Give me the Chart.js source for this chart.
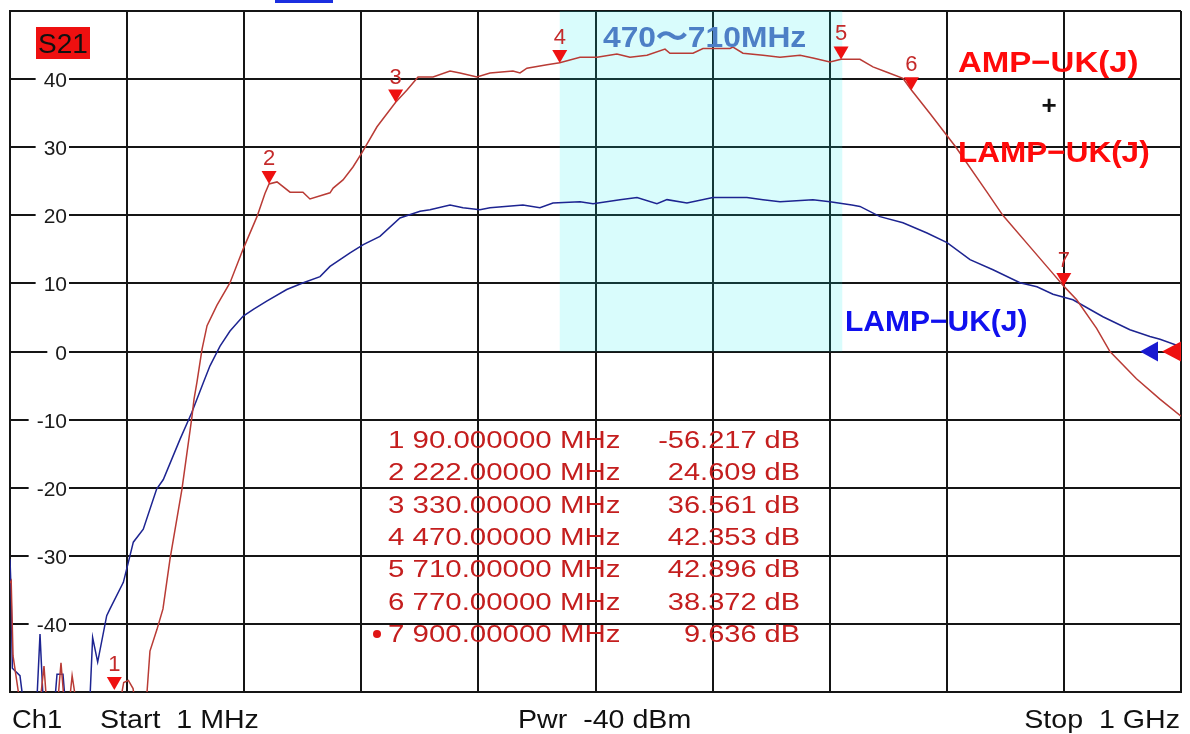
<!DOCTYPE html>
<html>
<head>
<meta charset="utf-8">
<script src="https://cdn.jsdelivr.net/npm/chart.js@4.4.1/dist/chart.umd.min.js"></script>
<style>
html, body { margin: 0; padding: 0; background: #fff; }
#wrap { width: 1190px; height: 734px; position: relative; }
</style>
</head>
<body>
<div id="wrap"><canvas id="chart" width="1190" height="734"></canvas></div>
<script>
// sweep 1 MHz .. 1 GHz, 10 dB/div
const startMHz = 1;
const stopMHz = 1000;
const yLabels = [40, 30, 20, 10, 0, -10, -20, -30, -40];

// AMP-UK(J) + LAMP-UK(J) trace (red)
const redFreq = [1, 2, 3.6, 9, 27, 30, 32, 42, 44.5, 47, 52, 54, 57,
	90, 95, 98, 102, 106, 108, 114, 117.9, 120.4, 126.4, 131.5, 137.5, 147.7, 156.3, 158, 160.5, 164.8,
	169.1, 177.6, 188.7, 199.8, 211.7, 218.5, 222, 228.8, 239.9, 250.9, 256.9, 274, 276.7, 285.1, 293.6,
	301.3, 314.1, 330, 339.7, 349.1, 361.9, 376.4, 384.9, 399.4, 410.5, 430.1, 436.1, 442, 459.1, 470,
	487.3, 501.8, 518.8, 529.9, 544.4, 559.8, 564, 583.7, 592.2, 615.2, 617.8, 626.3, 643.4, 657.9, 675,
	686, 700.5, 710, 726.1, 737.2, 749.2, 762.8, 770, 786, 808, 834.5, 848, 871, 891, 900, 911, 928,
	939.4, 962, 982, 1000];
const redDb = [-34, -33.7, -44.7, -51, -51, -46.2, -51, -51, -45.7, -51, -51, -47.6, -51,
	-56.2, -51.5, -48.6, -48.3, -49.5, -52, -56, -50, -44, -40.8, -37.8, -30.5, -20.2, -9.5, -7, -4.5, 0.3,
	3.8, 6.8, 10.1, 15, 19.8, 23.2, 24.6, 24.9, 23.4, 23.4, 22.4, 23.3, 24, 25.2, 27.1,
	29.2, 33, 36.6, 38.4, 40.3, 40.3, 41.2, 40.9, 40.3, 40.9, 41.2, 40.9, 41.6, 42.1, 42.4,
	43.2, 43.2, 43.7, 43.2, 43.5, 44.4, 43.8, 43.8, 44.5, 44.5, 44.7, 43.8, 43.5, 43.2, 43.5,
	43.1, 42.5, 42.9, 42.9, 41.8, 41, 40.1, 38.4, 34.9, 30, 23.4, 20, 15.4, 11.4, 9.6, 7.6, 3.4,
	0, -4, -7, -9.5];

// LAMP-UK(J) trace (blue)
const blueFreq = [1, 1.9, 3, 9.5, 12, 24, 26.6, 29.2, 39.4, 41.1, 46.2, 47.9, 69.2,
	71.5, 75.8, 83.5, 86.3, 97.7, 101.9, 106.2, 114.7, 126.1, 131.8, 146, 156, 165.9, 171.6, 180.2,
	188.7, 200, 208.6, 220, 237.1, 251.2, 265.5, 274, 291.1, 302.4, 316.6, 333.7, 350.8, 359.3, 376.4,
	387.5, 401.9, 410.5, 438.6, 453.1, 464.2, 487.3, 498.4, 521.4, 535.9, 552.9, 561.5, 578.5, 600.7,
	629.7, 643.4, 657.9, 686, 700.5, 719.2, 726.1, 743.2, 762.8, 783.3, 800.4, 820, 839.6, 862.6,
	877.1, 890.8, 907.8, 933.4, 956.4, 973.5, 982.1, 1000];
const blueDb = [-30.5, -35, -46.5, -47.6, -51, -51, -41.5, -51, -51, -47.4, -47.4, -51, -51,
	-42, -45.6, -38.8, -37.8, -33.9, -31, -28, -26.1, -20.2, -18.8, -12.9, -9, -4.6, -2.1, 0.8,
	3, 5.2, 6.2, 7.4, 9.1, 10.1, 11, 12.5, 14.5, 15.7, 16.9, 19.6, 20.6, 20.8, 21.5,
	21.1, 20.8, 21.1, 21.5, 21.1, 21.8, 22, 21.7, 22.3, 22.6, 21.7, 22.3, 21.8, 22.6,
	22.6, 22.3, 22, 22.3, 22, 21.5, 21.3, 19.8, 18.9, 17.4, 16, 13.5, 12, 10.1,
	9.5, 8.4, 7.6, 5.1, 3.2, 2.2, 1.8, 0.7];

// markers 1..7
const markerFreq = [90, 222, 330, 470, 710, 770, 900];
const markerDb = [-56.217, 24.609, 36.561, 42.353, 42.896, 38.372, 9.636];

// highlighted band
const bandFreq = [470, 711];
const bandDb = [0, 50];

const xGrid = [];
for (let i = 0; i <= 10; i++) {
	xGrid.push(startMHz + (i * (stopMHz - startMHz)) / 10);
}

function toPoints(xs, ys) {
	return xs.map((x, i) => ({ x: x, y: ys[i] }));
}

const FONT = '"Liberation Sans", Arial, sans-serif';

// text with optional horizontal stretch (analyzer font is wide)
function drawText(ctx, str, x, y, font, color, align, sx) {
	ctx.save();
	ctx.font = font;
	ctx.fillStyle = color;
	ctx.textBaseline = 'alphabetic';
	const w = ctx.measureText(str).width * (sx || 1);
	let left = x;
	if (align === 'right') left = x - w;
	if (align === 'center') left = x - w / 2;
	ctx.translate(left, y);
	ctx.scale(sx || 1, 1);
	ctx.textAlign = 'left';
	ctx.fillText(str, 0, 0);
	ctx.restore();
}

const overlay = {
	id: 'overlay',
	beforeDatasetsDraw(chart) {
		const { ctx, scales: { x, y } } = chart;
		ctx.save();
		// 470-710 MHz band, tinted over the grid
		const x0 = x.getPixelForValue(bandFreq[0]);
		const x1 = x.getPixelForValue(bandFreq[1]);
		const y0 = y.getPixelForValue(bandDb[1]);
		const y1 = y.getPixelForValue(bandDb[0]);
		ctx.fillStyle = 'rgba(20, 235, 235, 0.16)';
		ctx.fillRect(x0, y0, x1 - x0, y1 - y0);

		// scale labels sit inside the grid
		ctx.font = '21px ' + FONT;
		for (const v of yLabels) {
			const py = y.getPixelForValue(v);
			const t = String(v);
			const w = ctx.measureText(t).width;
			ctx.fillStyle = '#fff';
			ctx.fillRect(67 - w - 8, py - 3, w + 10, 6);
			drawText(ctx, t, 67, py + 8, '21px ' + FONT, '#1a1a1a', 'right');
		}
		ctx.restore();
	},
	afterDatasetsDraw(chart) {
		const { ctx, chartArea: a, scales: { x, y } } = chart;
		ctx.save();

		// marker triangles + numbers
		markerFreq.forEach((f, i) => {
			const px = x.getPixelForValue(f);
			const py = Math.min(y.getPixelForValue(markerDb[i]), a.bottom - 2);
			ctx.fillStyle = '#ee1111';
			ctx.beginPath();
			ctx.moveTo(px, py);
			ctx.lineTo(px - 7.5, py - 13);
			ctx.lineTo(px + 7.5, py - 13);
			ctx.closePath();
			ctx.fill();
			drawText(ctx, String(i + 1), px, py - 19, '22px ' + FONT, '#c42a2a', 'center');
		});

		// reference level arrows at 0 dB
		const r0 = y.getPixelForValue(0);
		ctx.fillStyle = '#1a1ad0';
		ctx.beginPath();
		ctx.moveTo(a.right - 41, r0);
		ctx.lineTo(a.right - 23, r0 - 10);
		ctx.lineTo(a.right - 23, r0 + 10);
		ctx.closePath();
		ctx.fill();
		ctx.fillStyle = '#ee1111';
		ctx.beginPath();
		ctx.moveTo(a.right - 19, r0);
		ctx.lineTo(a.right, r0 - 10);
		ctx.lineTo(a.right, r0 + 10);
		ctx.closePath();
		ctx.fill();

		// S21 tag
		ctx.fillStyle = '#ee1010';
		ctx.fillRect(36, 27, 54, 32);
		drawText(ctx, 'S21', 63, 53, '28px ' + FONT, '#111', 'center');

		// stray header mark (cut off at the top edge)
		ctx.fillStyle = '#1b2fe0';
		ctx.fillRect(275, 0, 58, 3);

		// annotations
		drawText(ctx, '470〜710MHz', 603, 47, 'bold 30px ' + FONT, '#4d7fc6', 'left', 1.06);
		drawText(ctx, 'AMP−UK(J)', 958, 72, 'bold 30px ' + FONT, '#ff0a0a', 'left', 1.1);
		drawText(ctx, '+', 1049, 114, 'bold 26px ' + FONT, '#111', 'center');
		drawText(ctx, 'LAMP−UK(J)', 958, 162, 'bold 30px ' + FONT, '#ff0a0a', 'left', 1.05);
		drawText(ctx, 'LAMP−UK(J)', 845, 331, 'bold 30px ' + FONT, '#1010ee', 'left', 1.0);

		// marker table
		const tf = '23px ' + FONT;
		markerFreq.forEach((f, i) => {
			const by = 448 + i * 32.3;
			drawText(ctx, `${i + 1} ${f.toPrecision(8)} MHz`, 388, by, tf, '#c41e1e', 'left', 1.28);
			drawText(ctx, `${markerDb[i].toFixed(3)} dB`, 800, by, tf, '#c41e1e', 'right', 1.26);
		});
		ctx.fillStyle = '#e01515';
		ctx.beginPath();
		ctx.arc(377, 634, 4, 0, Math.PI * 2);
		ctx.fill();

		// footer
		const ff = '26px ' + FONT;
		drawText(ctx, 'Ch1', 12, 728, ff, '#111', 'left', 1.05);
		drawText(ctx, 'Start  1 MHz', 100, 728, ff, '#111', 'left', 1.1);
		drawText(ctx, 'Pwr  -40 dBm', 518, 728, ff, '#111', 'left', 1.1);
		drawText(ctx, 'Stop  1 GHz', 1180, 728, ff, '#111', 'right', 1.1);
		ctx.restore();
	},
};

const ctx = document.getElementById('chart').getContext('2d');
new Chart(ctx, {
	type: 'scatter',
	data: {
		datasets: [
			{
				label: 'AMP-UK(J) + LAMP-UK(J)',
				data: toPoints(redFreq, redDb),
				showLine: true,
				borderColor: '#b93b35',
				borderWidth: 1.5,
				pointRadius: 0,
			},
			{
				label: 'LAMP-UK(J)',
				data: toPoints(blueFreq, blueDb),
				showLine: true,
				borderColor: '#1d2491',
				borderWidth: 1.5,
				pointRadius: 0,
			},
		],
	},
	options: {
		responsive: false,
		animation: false,
		layout: { padding: { left: 10, right: 9, top: 11, bottom: 42 } },
		plugins: { legend: { display: false }, tooltip: { enabled: false } },
		scales: {
			x: {
				type: 'linear',
				min: startMHz,
				max: stopMHz,
				afterBuildTicks: (scale) => {
					scale.ticks = xGrid.map((v) => ({ value: v }));
				},
				ticks: { display: false },
				grid: { color: '#151515', lineWidth: 2, drawTicks: false },
				border: { color: '#151515', width: 2 },
			},
			y: {
				min: -50,
				max: 50,
				ticks: { display: false, stepSize: 10 },
				grid: { color: '#151515', lineWidth: 2, drawTicks: false },
				border: { color: '#151515', width: 2 },
			},
		},
	},
	plugins: [overlay],
});
</script>
</body>
</html>
